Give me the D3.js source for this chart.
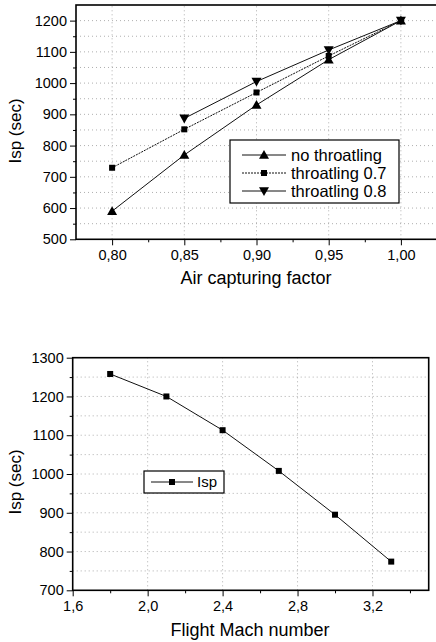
<!DOCTYPE html>
<html>
<head>
<meta charset="utf-8">
<script src="https://cdn.jsdelivr.net/npm/d3@7"></script>
<style>
	body { margin: 0; background: #fff; }
	svg { display: block; font-family: "Liberation Sans", Arial, sans-serif; }
	.grid line { stroke: #9a9a9a; stroke-width: 0.8; stroke-dasharray: 1,3; }
	.axis path, .axis line { stroke: #000; }
	.axis text { font-size: 14.5px; fill: #000; }
	.frame { fill: none; stroke: #000; stroke-width: 1.6; }
	.series { fill: none; stroke: #111; stroke-width: 1; }
	.title { font-size: 18px; fill: #000; }
	.legend-box { fill: #fff; stroke: #000; stroke-width: 1.2; }
</style>
</head>
<body>
<svg id="chart" width="436" height="642"></svg>
<script>

// ---- top panel: Isp vs air capturing factor
const capture_factor = [0.80, 0.85, 0.90, 0.95, 1.00];
const isp_no_throat = [590, 770, 930, 1075, 1200];
const isp_throat_07 = [729, 852, 970, 1087, 1200];
const isp_throat_08 = [null, 887, 1005, 1106, 1200];
const top_x_ticks = [0.80, 0.85, 0.90, 0.95, 1.00];
const top_y_ticks = [500, 600, 700, 800, 900, 1000, 1100, 1200];
const top_series_names = ["no throatling", "throatling 0.7", "throatling 0.8"];

// ---- bottom panel: Isp vs flight Mach number
const mach = [1.8, 2.1, 2.4, 2.7, 3.0, 3.3];
const isp_mach = [1258, 1200, 1113, 1008, 895, 774];
const bot_x_ticks = [1.6, 2.0, 2.4, 2.8, 3.2];
const bot_y_ticks = [700, 800, 900, 1000, 1100, 1200, 1300];

const svg = d3.select("#chart");

const comma = (digits) => (d) => d.toFixed(digits).replace(".", ",");

function mid(ticks) {
	// minor ticks half way between majors (and one past the end)
	const step = ticks[1] - ticks[0];
	return ticks.map(t => t + step / 2);
}

function marker(g, kind, x, y) {
	if (kind === "square") {
		g.append("rect").attr("x", x - 3).attr("y", y - 3)
			.attr("width", 6).attr("height", 6).attr("fill", "#000");
	} else {
		const s = kind === "up" ? -1 : 1;
		g.append("path")
			.attr("d", `M${x - 5},${y - s * 3.8} L${x + 5},${y - s * 3.8} L${x},${y + s * 5} Z`)
			.attr("fill", "#000");
	}
}

function drawPanel(p) {
	const x = d3.scaleLinear().domain(p.xDomain).range(p.xRange);
	const y = d3.scaleLinear().domain(p.yDomain).range(p.yRange);
	const g = svg.append("g");

	const yMinor = mid(p.yTicks).filter(v => v < p.yDomain[1]);
	const xMinor = mid(p.xTicks).filter(v => v < p.xDomain[1]);

	// grid
	const grid = g.append("g").attr("class", "grid");
	grid.selectAll(".h").data(p.yTicks.concat(yMinor).filter(v => v > p.yDomain[0] && v < p.yDomain[1]))
		.enter().append("line")
		.attr("x1", p.xRange[0]).attr("x2", p.xRange[1])
		.attr("y1", d => y(d)).attr("y2", d => y(d));
	grid.selectAll(".v").data(p.xTicks.filter(v => v > p.xDomain[0]))
		.enter().append("line")
		.attr("y1", p.yRange[0]).attr("y2", p.yRange[1])
		.attr("x1", d => x(d)).attr("x2", d => x(d));

	// minor ticks
	g.append("g").attr("class", "axis")
		.attr("transform", `translate(0,${p.yRange[0]})`)
		.call(d3.axisBottom(x).tickValues(xMinor).tickSize(3).tickFormat(""))
		.select(".domain").remove();
	g.append("g").attr("class", "axis")
		.attr("transform", `translate(${p.xRange[0]},0)`)
		.call(d3.axisLeft(y).tickValues(yMinor).tickSize(3).tickFormat(""))
		.select(".domain").remove();

	// major axes
	g.append("g").attr("class", "axis")
		.attr("transform", `translate(0,${p.yRange[0]})`)
		.call(d3.axisBottom(x).tickValues(p.xTicks).tickSize(6).tickPadding(4)
			.tickFormat(comma(p.xDigits)))
		.select(".domain").remove();
	g.append("g").attr("class", "axis")
		.attr("transform", `translate(${p.xRange[0]},0)`)
		.call(d3.axisLeft(y).tickValues(p.yTicks).tickSize(6).tickPadding(3)
			.tickFormat(d3.format("d")))
		.select(".domain").remove();

	g.append("rect").attr("class", "frame")
		.attr("x", p.xRange[0]).attr("y", p.yRange[1])
		.attr("width", p.xRange[1] - p.xRange[0])
		.attr("height", p.yRange[0] - p.yRange[1]);

	// series
	p.series.forEach(s => {
		const pts = p.xData.map((v, i) => [v, s.values[i]]).filter(d => d[1] != null);
		g.append("path").attr("class", "series")
			.attr("d", d3.line().x(d => x(d[0])).y(d => y(d[1]))(pts))
			.style("stroke-dasharray", s.dash || null);
		pts.forEach(d => marker(g, s.marker, x(d[0]), y(d[1])));
	});

	// titles
	g.append("text").attr("class", "title")
		.attr("x", p.xTitlePos[0]).attr("y", p.xTitlePos[1])
		.attr("text-anchor", "middle").text(p.xTitle);
	g.append("text").attr("class", "title")
		.attr("transform", `translate(${p.yTitlePos[0]},${p.yTitlePos[1]}) rotate(-90)`)
		.attr("text-anchor", "middle").style("font-size", "17px").text(p.yTitle);

	// legend
	const L = p.legend;
	const lg = g.append("g");
	lg.append("rect").attr("class", "legend-box")
		.attr("x", L.box[0]).attr("y", L.box[1]).attr("width", L.box[2]).attr("height", L.box[3]);
	p.series.forEach((s, i) => {
		const ry = L.row0 + i * L.rowStep;
		lg.append("line").attr("class", "series")
			.attr("x1", L.line[0]).attr("x2", L.line[1]).attr("y1", ry).attr("y2", ry)
			.style("stroke-dasharray", s.dash || null);
		marker(lg, s.marker, (L.line[0] + L.line[1]) / 2, ry);
		lg.append("text").attr("x", L.textX).attr("y", ry).attr("dy", "0.36em")
			.style("font-size", L.fontSize + "px").text(s.name);
	});
}

drawPanel({
	xDomain: [0.775, 1.025], xRange: [76, 437],
	yDomain: [500, 1250], yRange: [239.3, 5],
	xTicks: top_x_ticks, yTicks: top_y_ticks, xDigits: 2,
	xData: capture_factor,
	series: [
		{ name: top_series_names[0], values: isp_no_throat, marker: "up" },
		{ name: top_series_names[1], values: isp_throat_07, marker: "square", dash: "2,1" },
		{ name: top_series_names[2], values: isp_throat_08, marker: "down" }
	],
	xTitle: "Air capturing factor", xTitlePos: [256, 284],
	yTitle: "Isp (sec)", yTitlePos: [21, 131],
	legend: { box: [230, 140, 169, 63], row0: 155, rowStep: 18, line: [242, 286], textX: 291, fontSize: 16.5 }
});

drawPanel({
	xDomain: [1.6, 3.5], xRange: [72.7, 428.7],
	yDomain: [700, 1300], yRange: [590.3, 357.7],
	xTicks: bot_x_ticks, yTicks: bot_y_ticks, xDigits: 1,
	xData: mach,
	series: [
		{ name: "Isp", values: isp_mach, marker: "square" }
	],
	xTitle: "Flight Mach number", xTitlePos: [250, 636],
	yTitle: "Isp (sec)", yTitlePos: [21, 482],
	legend: { box: [144, 471, 80, 22], row0: 482, rowStep: 18, line: [151, 193], textX: 197, fontSize: 15 }
});
</script>
</body>
</html>
